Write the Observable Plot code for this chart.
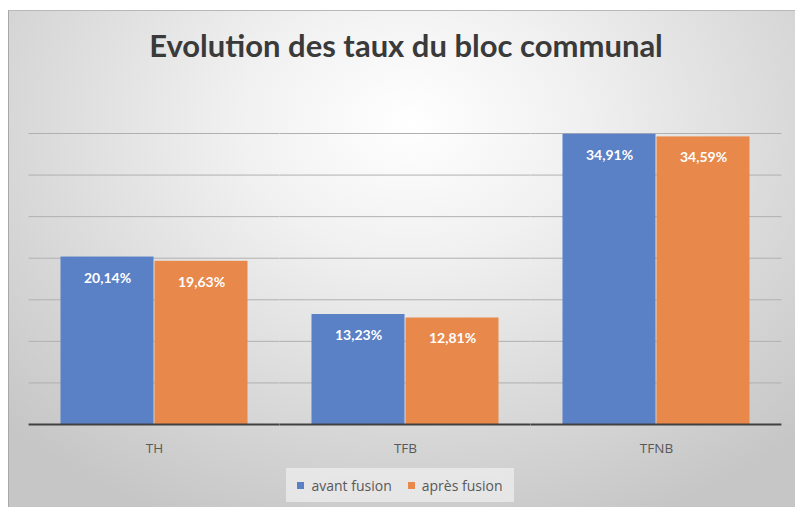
<!DOCTYPE html>
<html>
<head>
<meta charset="utf-8">
<script src="https://cdn.jsdelivr.net/npm/d3@7"></script>
<script src="https://cdn.jsdelivr.net/npm/@observablehq/plot@0.6"></script>
<style>
  html, body { margin: 0; padding: 0; background: #ffffff; }
  body { width: 795px; height: 507px; position: relative; overflow: hidden; font-family: Lato, "Open Sans", sans-serif; }
  #frame {
    position: absolute; left: 8px; top: 10px; width: 800px; height: 510px;
    border-left: 1px solid #a8a8a8; border-top: 1px solid #b8b8b8;
    background: radial-gradient(ellipse 70% 85% at 50% 22%, #ffffff 0%, #f1f1f1 30%, #dbdbdb 65%, #c6c6c6 100%);
  }
  #title {
    position: absolute; left: 0; top: 26px; width: 812px; text-align: center;
    font-family: Lato, sans-serif; font-weight: 700; font-size: 31px; color: #3a3a3a;
  }
  #chart { position: absolute; left: 0; top: 90px; }
  #legend {
    position: absolute; left: 286px; top: 468px; width: 228px; height: 34px;
    background: rgba(238,238,238,0.75);
    display: flex; align-items: center; justify-content: center; gap: 16px;
    font-family: "Open Sans", sans-serif; font-size: 14px; color: #595959;
  }
  .item { display: flex; align-items: center; gap: 7px; }
  .sw { width: 7px; height: 7px; display: inline-block; }
</style>
</head>
<body>
<div id="frame"></div>
<div id="title">Evolution des taux du bloc communal</div>
<div id="chart"></div>
<div id="legend"></div>
<script>
const categories = ["TH", "TFB", "TFNB"];
const seriesNames = ["avant fusion", "après fusion"];
const avantFusion = [20.14, 13.23, 34.91];
const apresFusion = [19.63, 12.81, 34.59];
const yTicks = [0, 5, 10, 15, 20, 25, 30, 35];
const colors = ["#5a80c6", "#e8884a"];

const data = [];
categories.forEach((c, i) => {
  data.push({category: c, series: seriesNames[0], value: avantFusion[i]});
  data.push({category: c, series: seriesNames[1], value: apresFusion[i]});
});
const fmt = v => v.toFixed(2).replace(".", ",") + "%";

const W = 795, ML = 28, MR = 13, PI = 0.25, PO = 0.125;
// Extend the per-facet gridlines across the gaps between facets
const band = d3.scaleBand().domain(categories).range([ML, W - MR]).paddingInner(PI).paddingOuter(PO);
const ext = -(band.step() - band.bandwidth()) / 2;

const plot = Plot.plot({
  width: W,
  height: 370,
  marginLeft: ML,
  marginRight: MR,
  marginTop: 43,
  marginBottom: 36,
  style: {background: "transparent", fontFamily: "'Open Sans', sans-serif"},
  fx: {domain: categories, paddingInner: PI, paddingOuter: PO, label: null, tickSize: 0, tickPadding: 19},
  x: {domain: seriesNames, padding: 0, axis: null},
  y: {domain: [0, 35], axis: null},
  color: {domain: seriesNames, range: colors},
  marks: [
    Plot.ruleY(yTicks.filter(d => d > 0), {stroke: "#b0b0b0", strokeWidth: 1, insetLeft: ext, insetRight: ext}),
    Plot.barY(data, {fx: "category", x: "series", y: "value", fill: "series", insetLeft: 0.5, insetRight: 0.5}),
    Plot.ruleY([0], {stroke: "#404040", strokeWidth: 2, insetLeft: ext, insetRight: ext}),
    Plot.text(data, {fx: "category", x: "series", y: "value", text: d => fmt(d.value), fill: "white", fontWeight: "bold", fontSize: 14, fontFamily: "Lato, sans-serif", dy: 21})
  ]
});
plot.querySelectorAll('g[aria-label="fx-axis tick label"]').forEach(g => { g.setAttribute("font-size", "13.5"); g.setAttribute("fill", "#595959"); });
document.getElementById("chart").appendChild(plot);

const legend = document.getElementById("legend");
seriesNames.forEach((s, i) => {
  const item = document.createElement("div");
  item.className = "item";
  const sw = document.createElement("span");
  sw.className = "sw";
  sw.style.background = colors[i];
  const lab = document.createElement("span");
  lab.textContent = s;
  item.appendChild(sw);
  item.appendChild(lab);
  legend.appendChild(item);
});
</script>
</body>
</html>
